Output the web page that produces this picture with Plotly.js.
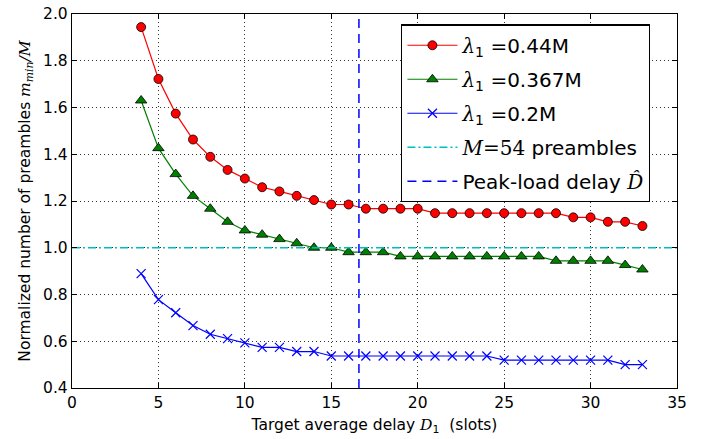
<!DOCTYPE html>
<html>
<head>
<meta charset="utf-8">
<script src="https://cdn.plot.ly/plotly-3.0.1.min.js"></script>
<style>html,body{margin:0;padding:0;background:#fff;}#chart{width:712px;height:439px;}</style>
</head>
<body>
<div id="chart"></div>
<script>
// Target average delay D1 (slots)
const delays = [4,5,6,7,8,9,10,11,12,13,14,15,16,17,18,19,20,21,22,23,24,25,26,27,28,29,30,31,32,33];
// lambda1 = 0.44M
const seriesHigh = [1.944,1.722,1.574,1.463,1.389,1.333,1.296,1.259,1.241,1.222,1.204,1.185,1.185,1.167,1.167,1.167,1.167,1.148,1.148,1.148,1.148,1.148,1.148,1.148,1.148,1.130,1.130,1.111,1.111,1.093];
// lambda1 = 0.367M
const seriesMid = [1.630,1.426,1.315,1.222,1.167,1.111,1.074,1.056,1.037,1.019,1.000,1.000,0.981,0.981,0.981,0.963,0.963,0.963,0.963,0.963,0.963,0.963,0.963,0.963,0.944,0.944,0.944,0.944,0.926,0.907];
// lambda1 = 0.2M
const seriesLow = [0.889,0.778,0.722,0.667,0.630,0.611,0.593,0.574,0.574,0.556,0.556,0.537,0.537,0.537,0.537,0.537,0.537,0.537,0.537,0.537,0.537,0.519,0.519,0.519,0.519,0.519,0.519,0.519,0.500,0.500];
const seriesNames = ['<i style="font-family:DejaVu Serif">λ</i><sub>1</sub> =0.44M','<i style="font-family:DejaVu Serif">λ</i><sub>1</sub> =0.367M','<i style="font-family:DejaVu Serif">λ</i><sub>1</sub> =0.2M'];
const refLevel = 1.0;          // M = 54 preambles (normalized)
const refName = '<i style="font-family:DejaVu Serif">M</i><span style="font-family:DejaVu Serif">=54</span> preambles';
const peakDelay = 16.6;        // peak-load delay D-hat
const peakName = 'Peak-load delay <i style="font-family:DejaVu Serif">D̂</i>';
const xRange = [0, 35];
const yRange = [0.4, 2.0];
const xTicks = [0,5,10,15,20,25,30,35];
const yTicks = [0.4,0.6,0.8,1.0,1.2,1.4,1.6,1.8,2.0];

const traces = [
  {x: delays, y: seriesHigh, name: seriesNames[0], legendgroup: 'a', mode: 'lines+markers',
   line: {color: '#ff0000', width: 1.2},
   marker: {symbol: 'circle', size: 9, color: '#ff0000', line: {color: '#000', width: 0.8}}},
  {x: delays, y: seriesMid, name: seriesNames[1], legendgroup: 'b', mode: 'lines+markers',
   line: {color: '#008000', width: 1.2},
   marker: {symbol: 'triangle-up', size: 10, color: '#008000', line: {color: '#000', width: 0.8}}},
  {x: delays, y: seriesLow, name: seriesNames[2], legendgroup: 'c', mode: 'lines+markers',
   line: {color: '#0000ff', width: 1.2},
   marker: {symbol: 'x-thin-open', size: 9, color: '#0000ff', line: {color: '#0000ff', width: 1.2}}},
  {x: xRange, y: [refLevel, refLevel], name: refName, legendgroup: 'd', mode: 'lines',
   line: {color: '#00bfbf', width: 1.3, dash: '8px,3px,2px,3px'}},
  {x: [peakDelay, peakDelay], y: yRange, name: peakName, legendgroup: 'e', mode: 'lines',
   line: {color: '#0000ff', width: 1.5, dash: '9px,6px'}}
];

const axisCommon = {
  showline: true, linecolor: '#000', linewidth: 1.2, mirror: 'ticks',
  ticks: 'inside', ticklen: 5, tickcolor: '#000', tickwidth: 1,
  showgrid: true, gridcolor: '#333', griddash: '1px,3px', gridwidth: 1,
  zeroline: false, tickfont: {family: 'DejaVu Sans', size: 15.5, color: '#000'}
};

const layout = {
  width: 712, height: 439,
  margin: {l: 72, r: 35, t: 14, b: 51},
  paper_bgcolor: '#fff', plot_bgcolor: '#fff',
  font: {family: 'DejaVu Sans', size: 15, color: '#000'},
  showlegend: true,
  legend: {x: 0.544, y: 0.972, xanchor: 'left', yanchor: 'top',
           bordercolor: '#000', borderwidth: 1.3, bgcolor: '#fff',
           font: {family: 'DejaVu Sans', size: 20, color: '#000'},
           tracegroupgap: 5, itemwidth: 50, entrywidth: 236},
  xaxis: Object.assign({}, axisCommon, {
    range: xRange, tickvals: xTicks, ticktext: xTicks.map(String),
    title: {text: 'Target average delay <i style="font-family:DejaVu Serif">D</i><sub>1</sub>  (slots)',
            font: {family: 'DejaVu Sans', size: 15.5, color: '#000'}, standoff: 8}
  }),
  yaxis: Object.assign({}, axisCommon, {
    range: yRange, tickvals: yTicks, ticktext: yTicks.map(v => v.toFixed(1)),
    title: {text: 'Normalized number of preambles <i style="font-family:DejaVu Serif">m</i><sub><i style="font-family:DejaVu Serif">min</i></sub><i style="font-family:DejaVu Serif">/M</i>',
            font: {family: 'DejaVu Sans', size: 15.5, color: '#000'}, standoff: 8}
  })
};

Plotly.newPlot('chart', traces, layout, {staticPlot: true, displayModeBar: false});
</script>
</body>
</html>
